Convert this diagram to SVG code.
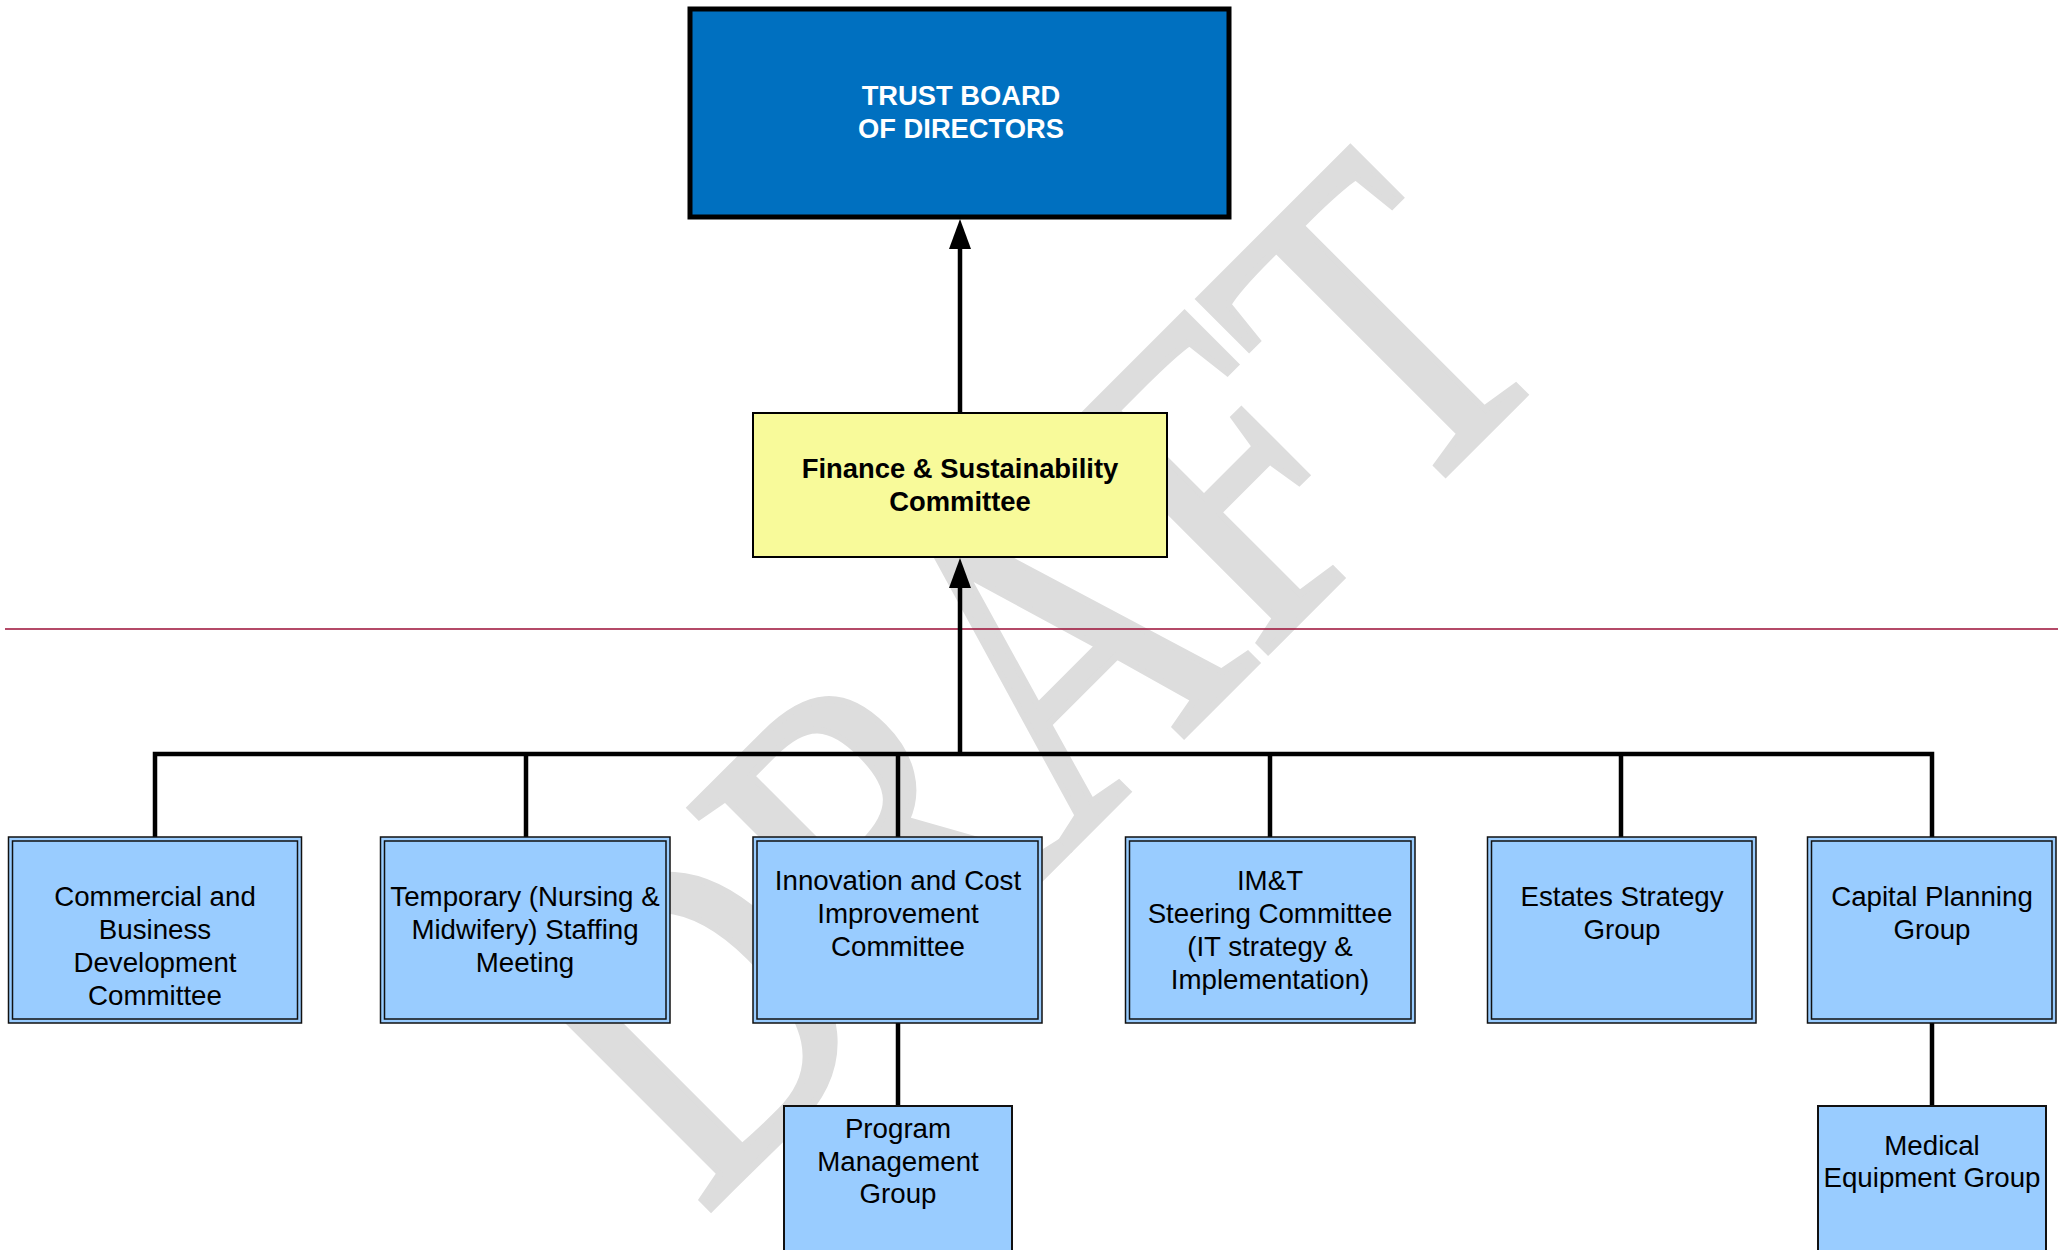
<svg xmlns="http://www.w3.org/2000/svg" width="2065" height="1250" viewBox="0 0 2065 1250">
<defs>
<style>
.wm{font-family:"Liberation Serif","Times New Roman",serif;fill:#dddddd;stroke:#dddddd;stroke-width:6;stroke-linejoin:miter;}
.t{font-family:"Liberation Sans",Arial,sans-serif;font-size:27.7px;fill:#000;text-anchor:middle;}
.tb{font-family:"Liberation Sans",Arial,sans-serif;font-weight:bold;text-anchor:middle;}
.box{fill:#99ccff;stroke:#111;stroke-width:1.5;}
.inner{fill:none;stroke:#111;stroke-width:1.5;}
.sbox{fill:#99ccff;stroke:#111;stroke-width:2;}
.con{fill:none;stroke:#000;stroke-width:4.5;}
</style>
<marker id="arr" viewBox="0 0 30 22" refX="0" refY="11" markerWidth="30" markerHeight="22" markerUnits="userSpaceOnUse" orient="auto">
<path d="M0,0 L30,11 L0,22 z" fill="#000"/>
</marker>
</defs>
<rect width="2065" height="1250" fill="#fff"/>
<g id="watermark">
<text class="wm" transform="translate(703,1216) rotate(-45) scale(1,1.22)" font-size="372" x="0" y="0">DRAFT</text>
</g>
<line x1="5" y1="629" x2="2058" y2="629" stroke="#9b0e36" stroke-width="1.4"/>
<g id="connectors">
<path class="con" d="M155,837 V754 H1932 V837"/>
<path class="con" d="M526,754 V837"/>
<path class="con" d="M898,754 V837"/>
<path class="con" d="M1270,754 V837"/>
<path class="con" d="M1621,754 V837"/>
<path class="con" d="M960,754 V588" marker-end="url(#arr)"/>
<path class="con" d="M960,413 V249" marker-end="url(#arr)"/>
<path class="con" d="M898,1023 V1106"/>
<path class="con" d="M1932,1023 V1106"/>
</g>
<g id="trust-board">
<rect x="690" y="9" width="539" height="208" fill="#0070c0" stroke="#000" stroke-width="5"/>
<text class="tb" font-size="27.3" fill="#fff" x="961" y="105">TRUST BOARD</text>
<text class="tb" font-size="27.3" fill="#fff" x="961" y="138">OF DIRECTORS</text>
</g>
<g id="finance">
<rect x="753" y="413" width="414" height="144" fill="#f8fa9a" stroke="#000" stroke-width="2"/>
<text class="tb" font-size="27.4" fill="#000" x="960" y="478">Finance &amp; Sustainability</text>
<text class="tb" font-size="27.4" fill="#000" x="960" y="511">Committee</text>
</g>
<g id="commercial">
<rect class="box" x="8.5" y="837" width="293" height="186"/>
<rect class="inner" x="12.5" y="841" width="285" height="178"/>
<text class="t" x="155" y="906">Commercial and</text>
<text class="t" x="155" y="939">Business</text>
<text class="t" x="155" y="972">Development</text>
<text class="t" x="155" y="1005">Committee</text>
</g>
<g id="temporary">
<rect class="box" x="380.5" y="837" width="289.5" height="186"/>
<rect class="inner" x="384.5" y="841" width="281.5" height="178"/>
<text class="t" x="525" y="906">Temporary (Nursing &amp;</text>
<text class="t" x="525" y="939">Midwifery) Staffing</text>
<text class="t" x="525" y="972">Meeting</text>
</g>
<g id="innovation">
<rect class="box" x="753" y="837" width="289" height="186"/>
<rect class="inner" x="757" y="841" width="281" height="178"/>
<text class="t" x="898" y="890">Innovation and Cost</text>
<text class="t" x="898" y="923">Improvement</text>
<text class="t" x="898" y="956">Committee</text>
</g>
<g id="imt">
<rect class="box" x="1125.5" y="837" width="289.5" height="186"/>
<rect class="inner" x="1129.5" y="841" width="281.5" height="178"/>
<text class="t" x="1270" y="890">IM&amp;T</text>
<text class="t" x="1270" y="923">Steering Committee</text>
<text class="t" x="1270" y="956">(IT strategy &amp;</text>
<text class="t" x="1270" y="989">Implementation)</text>
</g>
<g id="estates">
<rect class="box" x="1487.5" y="837" width="268.5" height="186"/>
<rect class="inner" x="1491.5" y="841" width="260.5" height="178"/>
<text class="t" x="1622" y="906">Estates Strategy</text>
<text class="t" x="1622" y="939">Group</text>
</g>
<g id="capital">
<rect class="box" x="1807.5" y="837" width="248.5" height="186"/>
<rect class="inner" x="1811.5" y="841" width="240.5" height="178"/>
<text class="t" x="1932" y="906">Capital Planning</text>
<text class="t" x="1932" y="939">Group</text>
</g>
<g id="program">
<rect class="sbox" x="784" y="1106" width="228" height="160"/>
<text class="t" x="898" y="1138">Program</text>
<text class="t" x="898" y="1171">Management</text>
<text class="t" x="898" y="1203">Group</text>
</g>
<g id="medical">
<rect class="sbox" x="1818" y="1106" width="228" height="160"/>
<text class="t" x="1932" y="1155">Medical</text>
<text class="t" x="1932" y="1187">Equipment Group</text>
</g>
</svg>
